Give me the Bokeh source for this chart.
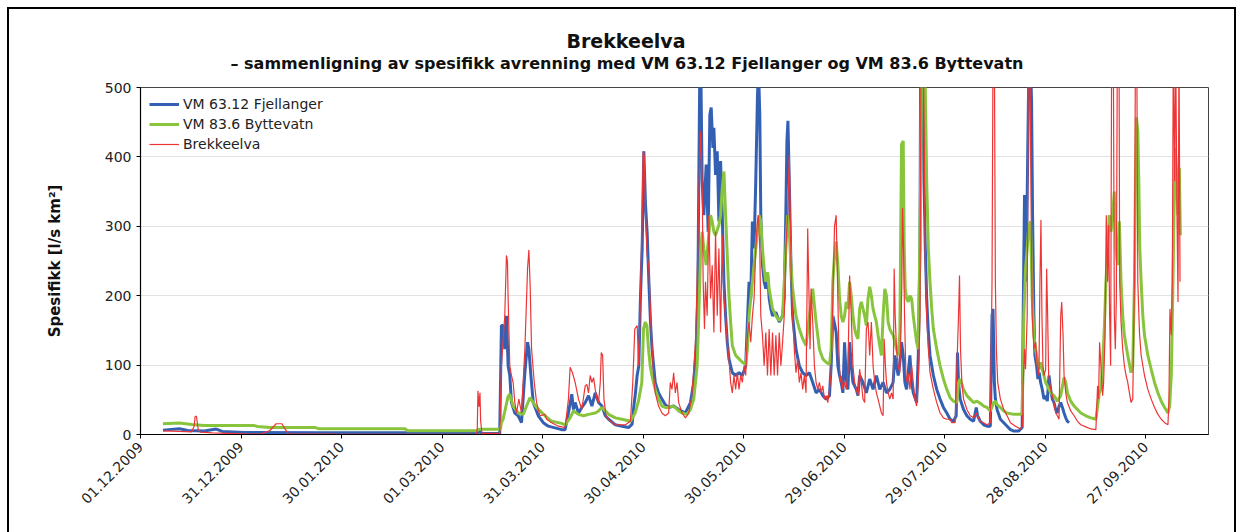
import pandas as pd
from math import pi
from bokeh.plotting import figure
from bokeh.models import Range1d, FixedTicker, Legend, LegendItem, DatetimeTickFormatter, Title
from bokeh.embed import file_html
from bokeh.resources import INLINE

start_date = "2009-12-01"
end_day = 318.7
tick_labels = ["01.12.2009", "31.12.2009", "30.01.2010", "01.03.2010", "31.03.2010",
               "30.04.2010", "30.05.2010", "29.06.2010", "29.07.2010", "28.08.2010", "27.09.2010"]
y_ticks = [0, 100, 200, 300, 400, 500]

title_text = "Brekkeelva"
subtitle_text = "– sammenligning av spesifikk avrenning med VM 63.12 Fjellanger og VM 83.6 Byttevatn"
y_label = "Spesifikk [l/s km²]"
series_names = ["VM 63.12 Fjellanger", "VM 83.6 Byttevatn", "Brekkeelva"]

# (days since 01.12.2009, specific runoff l/s km2)
fjellanger = [
    (6.7, 6.3), (11.6, 8.2), (14.1, 5.8), (19.0, 4.9), (22.6, 7.8), (24.4, 4.4), (31.0, 2.9), (55.0, 2.4),
    (89.7, 2.4), (100.7, 2.4), (101.2, 5.0), (101.7, 1.8), (107.2, 1.5),
    (107.7, 157), (108.2, 157), (108.7, 123), (109.2, 171), (109.7, 99), (110.2, 85), (110.7, 46), (111.7, 31),
    (112.7, 27), (113.7, 17), (114.7, 89), (115.5, 133), (115.9, 123), (116.5, 85), (117.2, 46), (118.7, 27),
    (120.2, 17), (121.7, 12), (125.7, 7), (126.7, 7), (127.7, 31), (128.7, 58), (129.2, 36), (129.7, 46),
    (130.7, 31), (131.7, 39), (132.7, 46), (133.7, 56), (134.7, 41), (135.7, 60), (136.7, 46), (137.7, 41),
    (138.7, 27), (139.7, 22), (141.7, 14), (143.7, 12), (145.7, 10), (146.7, 15), (147.2, 40), (147.7, 60),
    (148.2, 85), (148.7, 99), (149.2, 200), (149.7, 268), (150.2, 408), (150.7, 331), (151.2, 290),
    (151.7, 220), (152.2, 160), (152.7, 120),
    (153.6, 75), (154.6, 60), (155.6, 51), (156.6, 43), (157.6, 39), (159.1, 41), (160.6, 36), (162.6, 31),
    (164.1, 46), (165.1, 75), (165.8, 123), (166.3, 196), (166.6, 365), (166.9, 530), (167.2, 530),
    (167.6, 365), (168.1, 316), (168.8, 389), (169.4, 292), (169.9, 461), (170.3, 471), (170.8, 413),
    (171.1, 442), (171.6, 374), (172.1, 408), (172.6, 307), (173.1, 394), (173.6, 316), (174.1, 220),
    (174.6, 171), (175.1, 133), (175.6, 109), (176.6, 89), (177.6, 85), (178.6, 89), (179.6, 85),
    (180.6, 99), (181.1, 162), (181.6, 220), (182.1, 196), (182.6, 307), (183.1, 268), (183.6, 365),
    (184.1, 486), (184.4, 530), (184.8, 461), (185.1, 316), (185.6, 244), (186.1, 220), (186.6, 210),
    (187.1, 234), (187.6, 196), (188.1, 181), (188.6, 171), (189.6, 176), (190.6, 162), (191.6, 171),
    (192.1, 196), (192.6, 326), (192.9, 423), (193.2, 452), (193.6, 365), (194.1, 244), (194.6, 171),
    (195.6, 123), (196.6, 99), (197.6, 89), (198.6, 85), (199.6, 89), (200.6, 75), (201.6, 60), (202.6, 65),
    (203.6, 56), (204.6, 51), (205.6, 56), (206.1, 100), (206.6, 171), (207.1, 160), (207.6, 147),
    (208.1, 99), (208.6, 85), (209.1, 75), (209.6, 60), (210.1, 133), (210.6, 80), (211.1, 65), (211.6, 133),
    (212.1, 99), (212.6, 75), (213.6, 65), (214.1, 56), (214.6, 85), (215.6, 75), (216.6, 60), (217.6, 80),
    (218.6, 65), (219.6, 85), (220.6, 65), (221.6, 75), (222.6, 60), (223.6, 65), (224.6, 75), (225.1, 114),
    (225.6, 99), (226.1, 85), (226.6, 104), (227.1, 133), (227.6, 114), (228.1, 75), (228.6, 65),
    (229.6, 114), (230.1, 75), (230.6, 60), (231.6, 46), (232.1, 114), (232.6, 268), (232.8, 530),
    (233.4, 530), (233.8, 365), (234.2, 268), (234.6, 196), (235.1, 147), (235.6, 114), (236.6, 85),
    (237.6, 65), (238.6, 51), (239.6, 39), (240.6, 31), (241.6, 22), (242.6, 19), (243.4, 27), (243.8, 118),
    (244.1, 75), (244.6, 51), (245.6, 36), (246.6, 27), (247.6, 22), (248.6, 19), (249.4, 39), (249.8, 27),
    (250.6, 19), (251.6, 14), (252.6, 12), (253.6, 12), (254.1, 171), (254.4, 181), (254.8, 75), (255.1, 51),
    (255.6, 36), (256.6, 22), (257.6, 17), (258.6, 12), (259.6, 7), (260.6, 5), (262.1, 5), (263.1, 10),
    (263.4, 171), (263.8, 345), (264.1, 220), (264.4, 268), (264.8, 423), (265.1, 530), (265.6, 530),
    (265.9, 481), (266.2, 316), (266.6, 171), (266.9, 114), (267.4, 99), (267.8, 80), (268.2, 89),
    (268.6, 75), (269.1, 65), (269.6, 51), (270.1, 56), (270.6, 48), (271.1, 85), (271.6, 65), (272.1, 51),
    (272.6, 46), (273.1, 36), (273.6, 31), (274.1, 41), (274.6, 46), (275.1, 39), (275.6, 31), (276.1, 24),
    (276.6, 19), (277.1, 17),
]

byttevatn = [
    (6.7, 15.5), (11.6, 16.5), (15.3, 14.5), (19.0, 13.1), (33.7, 13.1), (34.9, 11.6), (38.6, 10.2),
    (52.0, 10.2), (53.3, 8.2), (79.0, 8.2), (79.6, 5.5), (100.5, 5.5), (100.8, 7.5), (107.4, 7.5),
    (107.7, 17), (108.2, 22), (109.7, 55), (110.2, 58), (111.2, 41), (112.7, 31), (114.2, 29), (116.2, 53),
    (118.2, 39), (120.7, 27), (122.7, 19), (125.7, 16), (126.7, 14), (128.2, 24), (129.2, 34), (130.7, 29),
    (132.2, 27), (133.7, 29), (135.7, 31), (136.7, 34), (137.7, 39), (138.7, 34), (139.7, 29), (141.7, 24),
    (143.7, 22), (146.2, 19), (147.6, 31), (148.6, 48), (149.6, 75), (150.1, 152), (150.6, 162),
    (151.1, 157), (151.6, 123), (152.1, 99), (152.6, 85), (153.6, 65), (154.6, 51), (155.6, 41), (156.6, 39),
    (157.6, 39), (158.6, 41), (159.6, 39), (160.6, 34), (161.6, 31), (163.1, 29), (164.1, 36), (165.1, 51),
    (166.1, 99), (166.6, 171), (167.1, 258), (167.6, 292), (168.1, 268), (168.8, 244), (169.4, 278),
    (170.1, 316), (170.6, 307), (171.1, 292), (171.6, 287), (172.6, 302), (173.1, 316), (173.6, 355),
    (174.1, 379), (174.6, 316), (175.1, 258), (175.6, 200), (176.1, 162), (176.6, 128), (177.6, 114),
    (178.6, 109), (179.6, 104), (180.6, 101), (181.1, 123), (181.6, 171), (182.6, 220), (183.6, 268),
    (184.6, 316), (185.1, 307), (185.6, 268), (186.1, 239), (186.6, 220), (187.1, 234), (187.6, 210),
    (188.6, 181), (189.6, 171), (190.6, 164), (191.6, 171), (192.1, 220), (192.6, 268), (193.1, 316),
    (193.6, 292), (194.1, 244), (194.6, 210), (195.6, 171), (196.6, 152), (197.6, 138), (198.6, 128),
    (199.6, 171), (200.6, 210), (201.6, 162), (202.6, 123), (203.6, 109), (204.6, 104), (205.6, 101),
    (206.1, 123), (206.6, 220), (207.1, 258), (207.6, 278), (208.1, 244), (208.6, 196), (209.1, 171),
    (209.6, 162), (210.1, 171), (210.6, 191), (211.1, 181), (211.6, 220), (212.1, 200), (212.6, 171),
    (213.1, 152), (213.6, 143), (214.1, 138), (214.6, 181), (215.1, 191), (215.6, 181), (216.1, 171),
    (216.6, 157), (217.1, 196), (217.6, 213), (218.1, 200), (218.6, 181), (219.1, 171), (219.6, 162),
    (220.1, 143), (220.6, 128), (221.1, 114), (221.6, 171), (222.1, 210), (222.6, 200), (223.1, 162),
    (223.6, 152), (224.1, 147), (224.6, 143), (225.1, 133), (225.6, 123), (226.1, 114), (226.6, 147),
    (226.9, 316), (227.1, 418), (227.6, 423), (227.9, 268), (228.2, 210), (228.6, 196), (229.1, 191),
    (229.6, 200), (230.1, 196), (230.6, 171), (231.1, 152), (231.6, 133), (232.1, 123), (232.4, 220),
    (232.8, 365), (233.1, 530), (234.1, 530), (234.6, 365), (235.1, 268), (235.6, 220), (236.1, 181),
    (236.6, 152), (237.6, 123), (238.6, 99), (239.6, 80), (240.6, 65), (241.6, 53), (242.6, 48), (243.6, 46),
    (244.1, 75), (244.6, 80), (245.6, 65), (246.6, 56), (247.6, 51), (248.6, 46), (249.6, 48), (250.6, 45),
    (251.6, 41), (252.6, 39), (253.6, 34), (254.6, 46), (255.1, 48), (255.6, 43), (256.6, 39), (257.6, 34),
    (258.6, 31), (260.6, 29), (262.6, 29), (263.1, 31), (263.6, 171), (264.1, 239), (264.6, 268),
    (265.1, 302), (265.6, 307), (266.1, 196), (266.6, 143), (267.1, 123), (267.6, 109), (268.1, 94),
    (268.6, 104), (269.1, 94), (269.6, 85), (270.1, 75), (270.6, 70), (271.1, 65), (271.6, 60), (272.6, 56),
    (273.6, 48), (274.6, 56), (275.6, 82), (276.1, 75), (276.6, 60), (277.6, 48), (278.6, 41), (279.6, 36),
    (280.6, 31), (282.1, 27), (283.6, 24), (285.1, 22), (285.6, 41), (286.1, 60), (286.6, 65), (287.1, 99),
    (287.6, 152), (288.1, 220), (288.6, 268), (289.1, 316), (289.6, 292), (290.1, 316), (290.6, 350),
    (291.1, 268), (291.6, 244), (292.1, 307), (292.6, 220), (293.1, 171), (293.6, 143), (294.6, 114),
    (295.6, 89), (296.1, 99), (296.6, 220), (296.9, 365), (297.2, 457), (297.6, 437), (297.9, 365),
    (298.2, 268), (298.6, 220), (299.1, 171), (299.6, 143), (300.6, 114), (301.6, 94), (302.6, 75),
    (303.6, 60), (304.6, 48), (305.6, 39), (306.6, 31), (307.1, 41), (307.6, 85), (308.1, 220), (308.4, 316),
    (308.8, 413), (309.2, 365), (309.6, 316), (310.0, 384), (310.3, 287),
]

brekkeelva = [
    (6.7, 5.3), (11.6, 4.4), (15.3, 3.9), (16.0, 12), (16.3, 26), (16.7, 26), (17.2, 8), (17.8, 3.4),
    (21.4, 2.4), (31.0, 1.0), (36.0, 0.5), (38.6, 5.8), (40.5, 15.5), (42.2, 15.5), (42.8, 10.7), (44.1, 1.0),
    (58.0, 0.5), (100.3, 0.3), (100.5, 10), (100.7, 63), (101.0, 40), (101.3, 60), (101.5, 20), (101.9, 1.5),
    (107.2, 1.5),
    (107.7, 99), (108.7, 171), (109.2, 258), (109.5, 249), (109.7, 196), (110.2, 99), (110.7, 85),
    (111.2, 75), (111.7, 46), (112.2, 31), (112.9, 51), (113.7, 31), (114.7, 123), (115.5, 239),
    (115.9, 266), (116.3, 210), (116.7, 123), (117.5, 75), (118.2, 46), (119.2, 27), (120.7, 29),
    (121.2, 22), (122.7, 17), (124.7, 12), (126.7, 10), (127.7, 51), (128.2, 97), (128.9, 89), (129.7, 75),
    (130.7, 51), (131.7, 36), (132.7, 70), (133.2, 72), (133.7, 60), (134.2, 85), (134.7, 75), (135.2, 82),
    (135.7, 65), (136.2, 51), (136.7, 46), (137.2, 75), (137.5, 118), (137.9, 114), (138.3, 51), (138.9, 27),
    (140.2, 19), (141.7, 14), (144.7, 14), (146.2, 19), (146.9, 75), (147.5, 152), (148.2, 157), (148.7, 99),
    (149.3, 225), (149.7, 316), (150.0, 408), (150.3, 403), (150.7, 316), (151.2, 258), (151.7, 239),
    (152.2, 171), (152.7, 123), (153.1, 85), (153.6, 60), (154.6, 41), (155.6, 31), (156.6, 27), (157.6, 31),
    (158.1, 75), (158.6, 65), (159.1, 89), (159.6, 60), (160.1, 75), (160.6, 46), (161.6, 31), (162.6, 24),
    (163.6, 31), (164.4, 51), (165.1, 94), (165.6, 133), (166.1, 220), (166.6, 341), (167.1, 437),
    (167.6, 365), (167.9, 220), (168.3, 152), (168.6, 220), (169.1, 171), (169.6, 316), (170.1, 196),
    (170.6, 244), (171.1, 147), (171.6, 292), (172.1, 171), (172.6, 268), (173.1, 147), (173.6, 287),
    (174.1, 196), (174.6, 171), (175.1, 133), (175.6, 109), (176.1, 75), (176.6, 60), (177.1, 85),
    (177.6, 65), (178.1, 89), (178.6, 65), (179.1, 85), (179.6, 75), (180.1, 99), (180.6, 85), (181.1, 143),
    (181.6, 162), (182.1, 133), (182.6, 171), (183.1, 196), (183.6, 268), (184.1, 307), (184.4, 316),
    (184.8, 268), (185.1, 171), (185.6, 143), (186.1, 99), (186.6, 147), (187.1, 85), (187.6, 152),
    (188.1, 85), (188.6, 147), (189.1, 85), (189.6, 143), (190.1, 85), (190.6, 147), (191.1, 99),
    (191.6, 133), (192.1, 171), (192.6, 268), (193.1, 316), (193.6, 403), (193.9, 316), (194.2, 220),
    (194.6, 171), (195.1, 123), (195.6, 89), (196.1, 109), (196.6, 75), (197.1, 89), (197.6, 65), (198.1, 85),
    (198.6, 60), (199.1, 297), (199.4, 220), (199.8, 123), (200.1, 210), (200.6, 162), (201.1, 99),
    (201.6, 75), (202.1, 65), (202.6, 75), (203.1, 60), (203.6, 70), (204.1, 51), (204.6, 56), (205.1, 46),
    (205.6, 65), (206.1, 89), (206.6, 196), (207.1, 300), (207.6, 316), (208.0, 220), (208.4, 123),
    (208.8, 75), (209.1, 85), (209.6, 65), (210.1, 75), (210.6, 65), (211.1, 89), (211.6, 229), (212.1, 171),
    (212.6, 99), (213.1, 75), (213.6, 65), (214.1, 56), (214.6, 94), (215.1, 75), (215.6, 51), (216.1, 46),
    (216.6, 152), (217.1, 162), (217.6, 114), (218.1, 162), (218.6, 99), (219.1, 75), (219.6, 60),
    (220.1, 51), (220.6, 41), (221.1, 31), (221.6, 27), (221.9, 138), (222.3, 99), (222.6, 75), (223.1, 60),
    (223.6, 51), (224.1, 60), (224.6, 51), (224.9, 239), (225.2, 171), (225.6, 123), (226.1, 99),
    (226.6, 89), (226.9, 147), (227.2, 220), (227.4, 326), (227.7, 268), (228.0, 171), (228.4, 85),
    (228.8, 75), (229.1, 89), (229.6, 65), (230.1, 99), (230.6, 75), (231.1, 51), (231.6, 41), (232.1, 75),
    (232.6, 171), (232.9, 540), (233.6, 540), (233.9, 413), (234.2, 244), (234.6, 171), (235.1, 123),
    (235.6, 89), (236.6, 65), (237.6, 46), (238.6, 31), (239.6, 24), (240.6, 22), (241.6, 22), (242.1, 17),
    (243.1, 17), (243.6, 94), (244.1, 171), (244.4, 229), (244.7, 123), (245.1, 75), (245.6, 51),
    (246.6, 36), (247.6, 27), (248.6, 24), (249.4, 31), (249.8, 27), (250.6, 19), (251.6, 17), (252.6, 14),
    (253.6, 17), (254.1, 220), (254.4, 560), (254.8, 560), (255.1, 220), (255.4, 123), (255.8, 75),
    (256.6, 51), (257.6, 36), (258.6, 27), (259.6, 17), (261.1, 12), (262.6, 8), (263.2, 12), (263.4, 75),
    (263.8, 123), (264.1, 94), (264.6, 171), (264.9, 540), (265.4, 540), (265.8, 316), (266.1, 171),
    (266.6, 123), (267.1, 133), (267.6, 99), (268.1, 85), (268.4, 220), (268.7, 309), (269.0, 171),
    (269.3, 99), (269.6, 85), (270.1, 94), (270.4, 239), (270.7, 171), (271.0, 85), (271.6, 65), (272.1, 56),
    (272.6, 46), (273.1, 31), (273.6, 27), (274.1, 22), (274.6, 171), (274.9, 191), (275.3, 143), (275.6, 85),
    (276.1, 60), (276.6, 46), (277.6, 34), (278.6, 27), (279.6, 19), (280.6, 14), (282.1, 11), (283.6, 8),
    (285.1, 7), (285.6, 70), (285.9, 51), (286.2, 133), (286.6, 99), (287.1, 56), (287.4, 75), (287.8, 138),
    (288.2, 316), (288.6, 220), (288.9, 302), (289.2, 171), (289.5, 99), (289.8, 560), (290.3, 560),
    (290.6, 171), (290.9, 123), (291.2, 196), (291.5, 560), (292.0, 560), (292.2, 220), (292.6, 162),
    (293.1, 123), (293.6, 99), (294.1, 85), (294.6, 75), (295.1, 60), (295.6, 46), (296.1, 51), (296.6, 220),
    (296.9, 560), (297.3, 560), (297.6, 220), (298.1, 147), (298.6, 114), (299.6, 85), (300.6, 65),
    (301.6, 51), (302.6, 39), (303.6, 29), (304.6, 22), (305.6, 17), (306.6, 14), (306.9, 51), (307.2, 181),
    (307.6, 143), (307.9, 220), (308.2, 560), (308.6, 365), (308.9, 560), (309.3, 316), (309.6, 191),
    (309.9, 560), (310.2, 220),
]

FONT = "DejaVu Sans"
t0 = pd.Timestamp(start_date)


def to_xy(pairs):
    d = [q[0] for q in pairs]
    v = [q[1] for q in pairs]
    return t0 + pd.to_timedelta(d, unit="D"), v


p = figure(width=1229, height=525, margin=(7, 0, 0, 7), x_axis_type="datetime",
           output_backend="svg", toolbar_location=None,
           x_range=Range1d(t0, t0 + pd.Timedelta(days=end_day)),
           y_range=Range1d(0, 500),
           min_border_left=131, min_border_right=30, min_border_top=78, min_border_bottom=100,
           background_fill_color="white", border_fill_color="white",
           styles={"border-left": "2px solid black", "border-top": "2px solid black",
                   "border-right": "2px solid black"})

colors = ["#3460b4", "#88c43c", "#ee3535"]
widths = [3, 3, 1.2]
renderers = []
for data, c, w in zip([fjellanger, byttevatn, brekkeelva], colors, widths):
    x, y = to_xy(data)
    renderers.append(p.line(x, y, line_color=c, line_width=w))

legend = Legend(items=[LegendItem(label=n, renderers=[r]) for n, r in zip(series_names, renderers)],
                location="top_left", border_line_alpha=0, background_fill_alpha=0,
                margin=4, padding=5, spacing=4, glyph_width=30, glyph_height=16, label_height=16,
                label_standoff=4, label_text_font=FONT, label_text_font_size="14px",
                label_text_color="#222222")
p.add_layout(legend)

tick_ms = [pd.to_datetime(t, format="%d.%m.%Y").value // 10**6 for t in tick_labels]
p.xaxis.ticker = FixedTicker(ticks=tick_ms)
fmt = "%d.%m.%Y"
p.xaxis.formatter = DatetimeTickFormatter(days=fmt, months=fmt, years=fmt, hours=fmt, hourmin=fmt,
                                          minutes=fmt, minsec=fmt, seconds=fmt, milliseconds=fmt,
                                          microseconds=fmt)
p.xaxis.major_label_orientation = pi / 4
p.yaxis.ticker = FixedTicker(ticks=y_ticks)

for ax in (p.xaxis, p.yaxis):
    ax.major_label_text_font = FONT
    ax.major_label_text_color = "#222222"
    ax.major_label_text_font_size = "14px"
    ax.axis_line_color = "black"
    ax.axis_line_width = 1.2
    ax.major_tick_line_color = "black"
    ax.major_tick_in = 0
    ax.major_tick_out = 4
    ax.minor_tick_line_color = None
p.yaxis.major_label_standoff = 5
p.xaxis.major_label_standoff = 6
p.yaxis.axis_label = y_label
p.yaxis.axis_label_text_font = FONT
p.yaxis.axis_label_text_font_size = "15px"
p.yaxis.axis_label_text_font_style = "bold"
p.yaxis.axis_label_text_color = "#111111"
p.yaxis.axis_label_standoff = 38

p.xgrid.grid_line_color = None
p.ygrid.grid_line_color = "#e2e2e2"
p.ygrid.grid_line_width = 1
p.outline_line_color = "#444444"
p.outline_line_width = 1

# subtitle first (closest to the frame), then main title above it
p.add_layout(Title(text=subtitle_text, text_font=FONT, text_font_size="16px", text_font_style="bold",
                   text_color="#111111", align="left", offset=90, vertical_align="top",
                   standoff=25), "above")
p.add_layout(Title(text=title_text, text_font=FONT, text_font_size="19px", text_font_style="bold",
                   text_color="#111111", align="left", offset=426, vertical_align="bottom",
                   standoff=-20), "above")

open("out.html", "w").write(file_html(p, INLINE))
